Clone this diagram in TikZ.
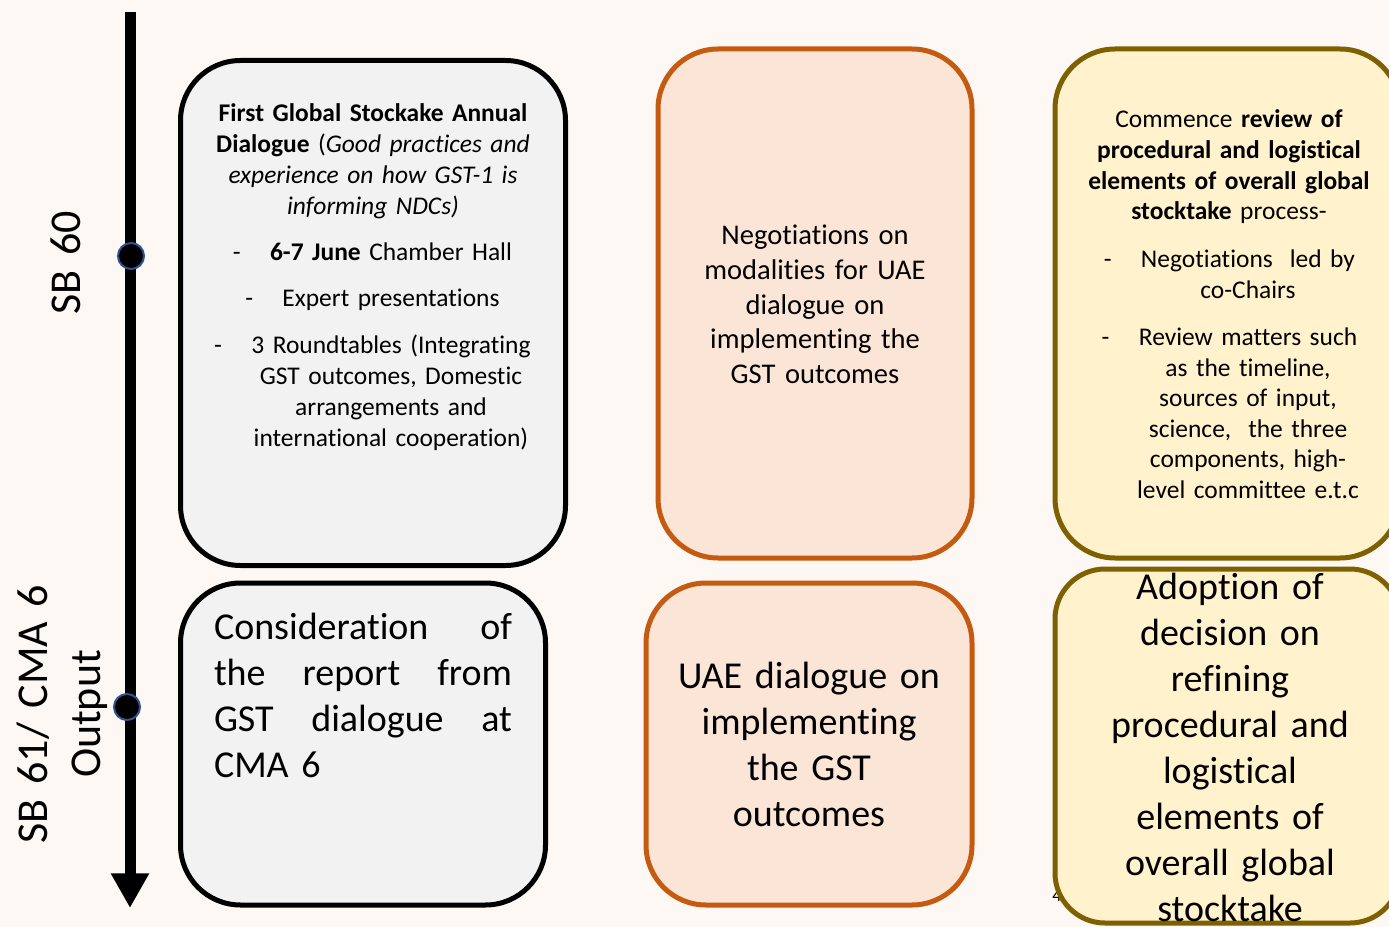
\documentclass[tikz,border=0pt]{standalone}
\usepackage{fontspec}
\setmainfont{Carlito}[Ligatures=NoCommon]
\usetikzlibrary{arrows.meta}
\definecolor{bgc}{RGB}{253,248,244}
\definecolor{grayfill}{RGB}{242,242,242}
\definecolor{orangedraw}{RGB}{197,90,17}
\definecolor{orangefill}{RGB}{251,229,214}
\definecolor{golddraw}{RGB}{127,96,0}
\definecolor{goldfill}{RGB}{255,242,204}
\definecolor{dotblue}{RGB}{47,82,143}
\newcommand\fsSmall{\fontsize{19.1pt}{23.25pt}\selectfont}
\newcommand\fsSmallR{\fontsize{19.1pt}{22.9pt}\selectfont}
\newcommand\fsMid{\fontsize{21.4pt}{25.9pt}\selectfont}
\newcommand\fsBig{\fontsize{28.5pt}{34.5pt}\selectfont}
\newcommand\fsLabel{\fontsize{33pt}{39.75pt}\selectfont}
\newcommand\dashitem{\leavevmode\llap{-\hspace{22pt}}}
\newcommand\jline[1]{\leavevmode\hbox to 223.5pt{#1}}
\begin{document}
\begin{tikzpicture}[x=0.75pt,y=-0.75pt,
  boxbase/.style={rectangle, rounded corners=45pt, line width=3.75pt, inner sep=0pt},
  graybox/.style={boxbase, draw=black, fill=grayfill},
  orangebox/.style={boxbase, draw=orangedraw, fill=orangefill},
  goldbox/.style={boxbase, draw=golddraw, fill=goldfill},
  txt/.style={inner sep=0pt, outer sep=0pt, anchor=base, align=center, text width=#1},
  dot/.style={circle, fill=black, draw=dotblue, line width=1.5pt, minimum size=19.5pt, inner sep=0pt},
  timeline/.style={line width=8.25pt, -{Triangle[width=27pt,length=26pt]}}
]
\useasboundingbox (0,0) rectangle (1389,927);
\clip (0,0) rectangle (1389,927);
\fill[bgc] (0,0) rectangle (1389,927);

% timeline
\coordinate (ttop) at (130,12);
\coordinate (tend) at (130,908);
\draw[timeline] (ttop) -- (tend);
\node[dot] (c1) at (131,256) {};
\node[dot] (c2) at (127,707) {};

% side labels
\node[txt=200pt, rotate=90, font=\fsLabel] (sb60) at (80,262.5) {SB 60};
\node[txt=300pt, rotate=90, font=\fsLabel] (sb61) at (47,714) {SB 61/ CMA 6\\Output};

% boxes
\node[graybox, minimum width=288.75pt, minimum height=378.75pt] (tl) at (373,313) {};
\node[graybox, minimum width=273.75pt, minimum height=241.5pt] (bl) at (363,744) {};
\node[orangebox, minimum width=235.5pt, minimum height=381.75pt] (tm) at (815,303.5) {};
\node[orangebox, minimum width=244.5pt, minimum height=241.5pt] (bm) at (809,744) {};
\node[goldbox, minimum width=258.75pt, minimum height=381.75pt] (tr) at (1227.5,303.5) {};
\node[inner sep=0pt, anchor=base west, font=\fontsize{13.5pt}{16pt}\selectfont] (pg) at (1052,901) {4};
\node[goldbox, rounded corners=37.5pt, minimum width=258.75pt, minimum height=265.5pt] (br) at (1227.5,746) {};

% top-left texts
\node[txt=300pt, font=\fsSmall] (tltitle) at (373,122)
  {\textbf{First Global Stockake Annual}\\
   \textbf{Dialogue} (\textit{Good practices and}\\
   \textit{experience on how GST-1 is}\\
   \textit{informing NDCs)}};
\node[txt=300pt, font=\fsSmall] (tlbul) at (391,261)
  {\dashitem\textbf{6-7 June} Chamber Hall\\[11.25pt]
   \dashitem Expert presentations\\[12pt]
   \dashitem 3 Roundtables (Integrating\\
   GST outcomes, Domestic\\
   arrangements and\\
   international cooperation)};

% bottom-left text
\node[inner sep=0pt, outer sep=0pt, anchor=base west, align=left, text width=223.5pt, font=\fsBig] (bltext) at (214,639)
  {\jline{Consideration\hfill of}\\
   \jline{the\hfill report\hfill from}\\
   \jline{GST\hfill dialogue\hfill at}\\
   CMA 6};

% middle texts
\node[txt=250pt, font=\fsMid] (tmtext) at (815,245)
  {Negotiations on\\ modalities for UAE\\ dialogue on\\ implementing the\\ GST outcomes};
\node[txt=260pt, font=\fsBig] (bmtext) at (809,688)
  {UAE dialogue on\\ implementing\\ the GST\\ outcomes};

% right texts
\node[txt=300pt, font=\fsSmallR] (trtitle) at (1229,128)
  {Commence \textbf{review of}\\
   \textbf{procedural and logistical}\\
   \textbf{elements of overall global}\\
   \textbf{stocktake} process-};
\node[txt=260pt, font=\fsSmallR] (trbul) at (1248,268)
  {\dashitem Negotiations\ \ led by\\
   co-Chairs\\[12.4pt]
   \dashitem Review matters such\\
   as the timeline,\\
   sources of input,\\
   science,\ \ the three\\
   components, high-\\
   level committee e.t.c};
\node[txt=260pt, font=\fsBig] (brtext) at (1230,599)
  {Adoption of\\ decision on\\ refining\\ procedural and\\ logistical\\ elements of\\ overall global\\ stocktake};
\end{tikzpicture}
\end{document}
